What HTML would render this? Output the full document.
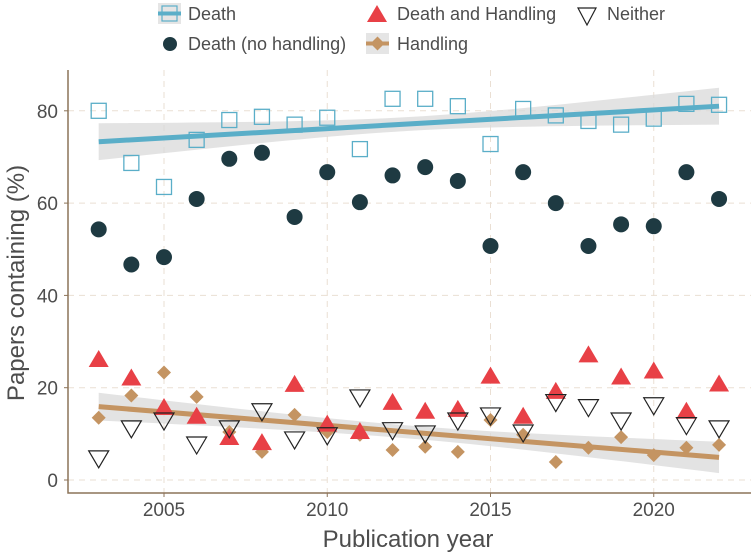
<!DOCTYPE html>
<html><head><meta charset="utf-8"><style>
html,body{margin:0;padding:0;background:#fff;}
svg{display:block;font-family:"Liberation Sans",Arial,sans-serif;}
</style></head><body>
<svg id="chart" width="751" height="558" xmlns="http://www.w3.org/2000/svg"></svg>
<script>
const years=[2003,2004,2005,2006,2007,2008,2009,2010,2011,2012,2013,2014,2015,2016,2017,2018,2019,2020,2021,2022];
const deathVals=[80,68.7,63.5,73.7,78,78.7,77,78.5,71.7,82.6,82.6,81,72.8,80.4,79,77.8,77,78.3,81.5,81.3];
const deathNoHandlingVals=[54.3,46.7,48.3,60.9,69.6,70.9,57,66.7,60.2,66,67.8,64.8,50.7,66.7,60,50.7,55.4,55,66.7,60.9];
const deathHandlingVals=[26,22,15.6,13.7,9.1,8,20.6,12,10.4,16.7,14.8,15.2,22.4,13.7,19.1,27,22.2,23.5,14.8,20.7];
const neitherVals=[4.8,11.3,13,7.8,11.3,15,8.9,9.8,18,10.9,10.2,13,14.1,10.4,17,15.9,13,16.3,12,11.3];
const handlingVals=[13.5,18.3,23.3,18,10.4,6.1,14.1,10.4,9.8,6.5,7.2,6.1,13,9.8,3.9,7,9.3,5.4,7,7.6];
const deathTrend=[73.3,81];
const deathBandHalf=[4,1.5,4];
const handlingTrend=[15.9,4.9];
const handlingBandHalf=[3,1.4,3.4];
const xTicks=[2005,2010,2015,2020];
const yTicks=[0,20,40,60,80];

const svg=document.getElementById('chart');
const NS='http://www.w3.org/2000/svg';
const X=v=>164+(v-2005)*32.65;
const Y=v=>480-v*4.615;
function mk(tag,attrs,parent){const e=document.createElementNS(NS,tag);for(const k in attrs)e.setAttribute(k,attrs[k]);(parent||svg).appendChild(e);return e;}
const L=68,R=751,T=70,B=493;
const grid=mk('g',{});


yTicks.forEach(t=>{const l=mk('line',{x1:L,x2:R,y1:Y(t),y2:Y(t),stroke:'#eadfd3','stroke-dasharray':'6,5','stroke-width':1},grid);

});
xTicks.forEach(t=>{const l=mk('line',{x1:X(t),x2:X(t),y1:T,y2:B,stroke:'#eadfd3','stroke-dasharray':'6,5','stroke-width':1},grid);

});
function band(tr,hw,col,name){
 const y0=years[0],y1=years[years.length-1],mid=(y0+y1)/2,n=40;
 const up=[],dn=[];
 for(let i=0;i<=n;i++){
  const yr=y0+(y1-y0)*i/n;
  const f=tr[0]+(tr[1]-tr[0])*i/n;
  const u=(yr-mid)/(y1-mid);
  const end=u<0?hw[0]:hw[2];
  const h=Math.sqrt(hw[1]*hw[1]+(end*end-hw[1]*hw[1])*u*u);
  up.push(X(yr)+','+Y(f+h));dn.unshift(X(yr)+','+Y(f-h));
 }
 const p=mk('polygon',{points:up.concat(dn).join(' '),fill:'#d9d9d9','fill-opacity':0.75});
 
 
 const l=mk('line',{x1:X(y0),x2:X(y1),y1:Y(tr[0]),y2:Y(tr[1]),stroke:col,'stroke-width':5});
 
 
}
band(deathTrend,deathBandHalf,'#5aaec8','death');
band(handlingTrend,handlingBandHalf,'#c49462','handling');
function square(x,y,g){return mk('rect',{x:x-7.5,y:y-7.5,width:15,height:15,fill:'none',stroke:'#5aaec8','stroke-width':1.3},g);}
function circle(x,y,g){return mk('circle',{cx:x,cy:y,r:8,fill:'#1e3a42'},g);}
function tri(x,y,g){return mk('polygon',{points:`${x},${y-10} ${x+10},${y+7} ${x-10},${y+7}`,fill:'#e84046'},g);}
function itri(x,y,g){return mk('polygon',{points:`${x-10},${y-7} ${x+10},${y-7} ${x},${y+10}`,fill:'none',stroke:'#222','stroke-width':1.2},g);}
function diamond(x,y,g){return mk('polygon',{points:`${x},${y-7} ${x+7},${y} ${x},${y+7} ${x-7},${y}`,fill:'#c49462'},g);}
function series(vals,fn,name){
 const g=mk('g',{});
 
 
 vals.forEach((v,i)=>{const e=fn(X(years[i]),Y(v),g);
 
 });
}
series(deathVals,square,'death');
series(deathNoHandlingVals,circle,'death-no-handling');
series(handlingVals,diamond,'handling');
series(deathHandlingVals,tri,'death-and-handling');
series(neitherVals,itri,'neither');
const ax=mk('path',{d:`M${L},${T} V${B} H${R}`,fill:'none',stroke:'#8c7358','stroke-width':1.5});


yTicks.forEach(t=>{mk('line',{x1:L-4,x2:L,y1:Y(t),y2:Y(t),stroke:'#8c7358','stroke-width':1});
 const tx=mk('text',{x:58,y:Y(t)+7,'text-anchor':'end','font-size':19,fill:'#4d4d4d'});tx.textContent=t;
 
 });
xTicks.forEach(t=>{mk('line',{x1:X(t),x2:X(t),y1:B,y2:B+4,stroke:'#8c7358','stroke-width':1});
 const tx=mk('text',{x:X(t),y:B+23,'text-anchor':'middle','font-size':19,fill:'#4d4d4d'});tx.textContent=t;
 
 });
const xt=mk('text',{x:408,y:547,'text-anchor':'middle','font-size':24,fill:'#4d4d4d'});xt.textContent='Publication year';


const yt=mk('text',{x:0,y:0,'text-anchor':'middle','font-size':24,fill:'#4d4d4d',transform:'translate(24,283) rotate(-90)'});yt.textContent='Papers containing (%)';


const lg=mk('g',{});


function lt(x,y,s,name){const t=mk('text',{x:x,y:y,'font-size':18,fill:'#4d4d4d'},lg);t.textContent=s;
 
 }
mk('rect',{x:158,y:3,width:23,height:21,fill:'#e5e5e5'},lg);
mk('rect',{x:162,y:6,width:15,height:15,fill:'none',stroke:'#5aaec8','stroke-width':1.2},lg);
mk('line',{x1:158,x2:181,y1:13.5,y2:13.5,stroke:'#5aaec8','stroke-width':4},lg);
lt(188,20,'Death','legend-death');
mk('circle',{cx:170,cy:44,r:7,fill:'#1e3a42'},lg);
lt(188,50,'Death (no handling)','legend-death-no-handling');
mk('polygon',{points:'377,5 387,22 367,22',fill:'#e84046'},lg);
lt(397,20,'Death and Handling','legend-death-and-handling');
mk('polygon',{points:'578,8 596,8 587,25',fill:'none',stroke:'#222','stroke-width':1.2},lg);
lt(607,20,'Neither','legend-neither');
mk('rect',{x:366,y:33,width:23,height:21,fill:'#e5e5e5'},lg);
mk('line',{x1:366,x2:389,y1:43.5,y2:43.5,stroke:'#c49462','stroke-width':4},lg);
mk('polygon',{points:'377.5,36.5 384.5,43.5 377.5,50.5 370.5,43.5',fill:'#c49462'},lg);
lt(397,50,'Handling','legend-handling');
</script>
</body></html>
